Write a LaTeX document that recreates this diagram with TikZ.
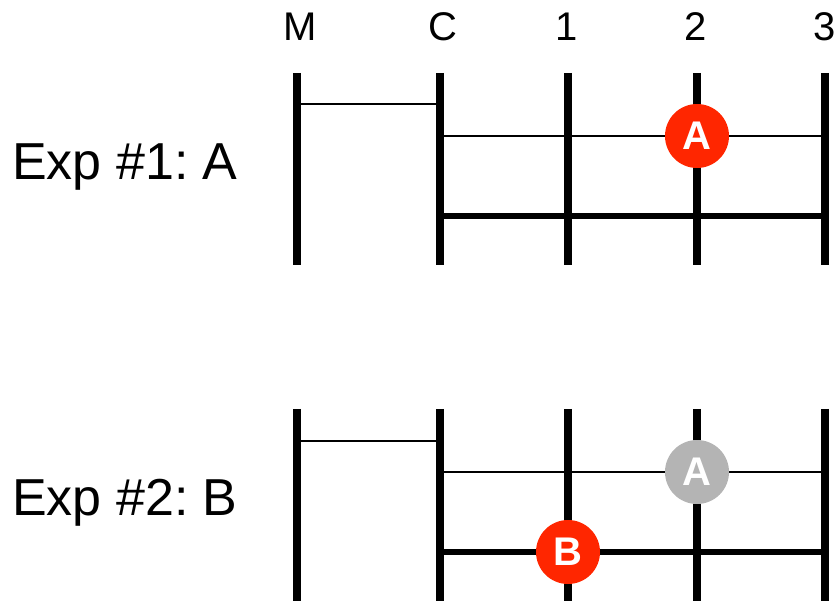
\documentclass[tikz,border=0pt]{standalone}
\usepackage{fontspec}
\setmainfont{Liberation Sans}
\usetikzlibrary{positioning}
\frenchspacing

\definecolor{hitred}{RGB}{255,38,0}
\definecolor{oldgray}{RGB}{180,180,180}

\begin{document}
\begin{tikzpicture}[
    x=1pt, y=-1pt,
    bar/.style={line width=8pt},
    thinrule/.style={line width=2pt},
    thickrule/.style={line width=6pt},
    colname/.style={anchor=base, inner sep=0pt, font=\fontsize{40}{48}\selectfont},
    explab/.style={anchor=base west, inner sep=0pt, font=\fontsize{52}{62}\selectfont},
    token/.style={circle, inner sep=0pt, minimum size=64pt, text=white, font=\fontsize{40}{44}\selectfont\bfseries},
    ]
  \useasboundingbox (0,0) rectangle (838,601);

  % column heads
  \node[colname] (hM) at (300,41) {M};
  \node[colname] (hC) at (443,41) {C};
  \node[colname] (h1) at (567,41) {1};
  \node[colname] (h2) at (696,41) {2};
  \node[colname] (h3) at (825,41) {3};

  % experiment labels
  \node[explab] (e1) at (12,180) {Exp \#1: A};
  \node[explab] (e2) at (12,515) {Exp \#2: B};

  % panel 1
  \coordinate (tM) at (297,73);  \coordinate (bM) at (297,265);
  \coordinate (tC) at (440,73);  \coordinate (bC) at (440,265);
  \coordinate (t1) at (568,73);  \coordinate (b1) at (568,265);
  \coordinate (t2) at (697,73);  \coordinate (b2) at (697,265);
  \coordinate (t3) at (825,73);  \coordinate (b3) at (825,265);
  \coordinate (mM) at (297,104); \coordinate (mC) at (440,104);
  \coordinate (uC) at (440,136); \coordinate (u3) at (825,136);
  \coordinate (lC) at (440,216); \coordinate (l3) at (825,216);

  \draw[thinrule] (mM) -- (mC);
  \draw[thinrule] (uC) -- (u3);
  \draw[thickrule] (lC) -- (l3);
  \foreach \c in {M,C,1,2,3}
    \draw[bar] (t\c) -- (b\c);
  \node[token, fill=hitred] (tokA) at (697,136) {A};

  % panel 2
  \coordinate (TM) at (297,409); \coordinate (BM) at (297,601);
  \coordinate (TC) at (440,409); \coordinate (BC) at (440,601);
  \coordinate (T1) at (568,409); \coordinate (B1) at (568,601);
  \coordinate (T2) at (697,409); \coordinate (B2) at (697,601);
  \coordinate (T3) at (825,409); \coordinate (B3) at (825,601);
  \coordinate (MM) at (297,441); \coordinate (MC) at (440,441);
  \coordinate (UC) at (440,472); \coordinate (U3) at (825,472);
  \coordinate (LC) at (440,552); \coordinate (L3) at (825,552);

  \draw[thinrule] (MM) -- (MC);
  \draw[thinrule] (UC) -- (U3);
  \draw[thickrule] (LC) -- (L3);
  \foreach \c in {M,C,1,2,3}
    \draw[bar] (T\c) -- (B\c);
  \node[token, fill=oldgray] (tokA2) at (697,472) {A};
  \node[token, fill=hitred] (tokB) at (568,552) {B};
\end{tikzpicture}
\end{document}
